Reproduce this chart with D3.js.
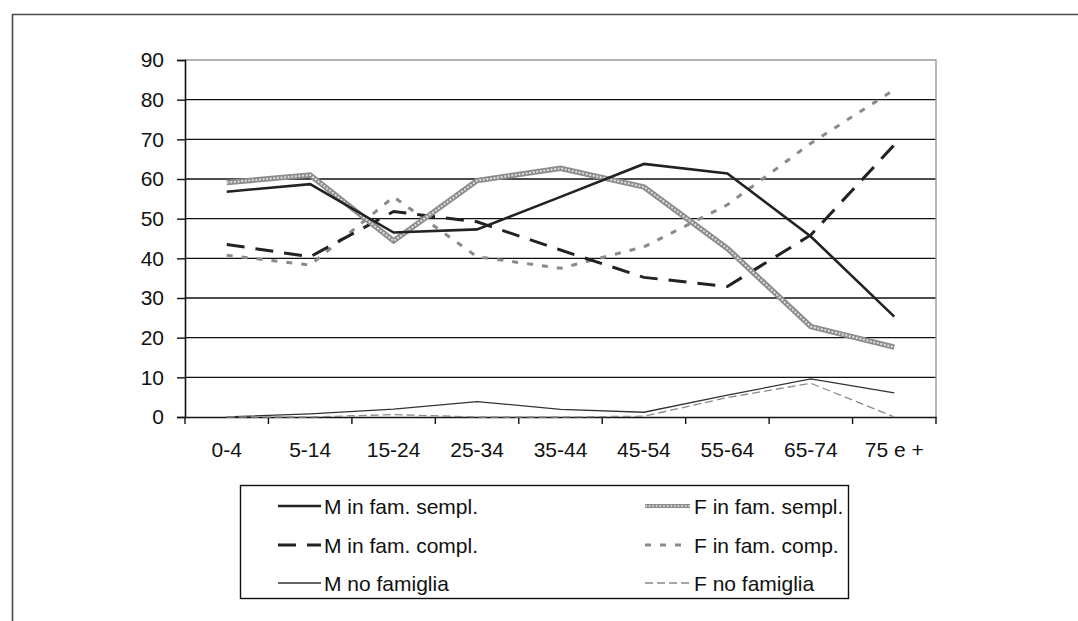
<!DOCTYPE html>
<html>
<head>
<meta charset="utf-8">
<script src="https://cdn.jsdelivr.net/npm/d3@7"></script>
<style>
  html, body { margin: 0; padding: 0; background: #fff; }
  svg { display: block; font-family: "Liberation Sans", Arial, sans-serif; }
</style>
</head>
<body>
<svg id="chart" width="1078" height="621"></svg>
<script>
// Age classes on the horizontal axis
const categories = ["0-4", "5-14", "15-24", "25-34", "35-44", "45-54", "55-64", "65-74", "75 e +"];
const yTicks = [0, 10, 20, 30, 40, 50, 60, 70, 80, 90];

// Percentages per age class
const mSempl  = [56.8, 58.7, 46.5, 47.3, 55.5, 63.8, 61.4, 45.5, 25.3];
const fSempl  = [59.1, 61.0, 44.4, 59.6, 62.7, 58.0, 42.5, 22.8, 17.6];
const mCompl  = [43.5, 40.4, 51.8, 49.2, 42.1, 35.2, 32.9, 45.9, 68.6];
const fComp   = [40.8, 38.3, 55.5, 40.4, 37.5, 42.9, 53.5, 69.0, 82.5];
const mNoFam  = [0, 0.8, 2.0, 3.9, 1.9, 1.2, 5.5, 9.6, 6.1];
const fNoFam  = [0, 0, 0.6, 0, 0, 0.2, 4.9, 8.5, 0];

const seriesNames = ["M in fam. sempl.", "F in fam. sempl.", "M in fam. compl.", "F in fam. comp.", "M no famiglia", "F no famiglia"];

const svg = d3.select("#chart");

// Chart-area frame (left and top edges)
svg.append("path")
  .attr("d", "M12.5,621 V14.5 H1078")
  .attr("fill", "none").attr("stroke", "#4a4a4a").attr("stroke-width", 1.6);

const plotL = 185, plotR = 936, plotT = 60, plotB = 417;

const x = d3.scaleBand().domain(categories).range([plotL, plotR]);
const y = d3.scaleLinear().domain([0, 90]).range([plotB, plotT]);
const cx = c => x(c) + x.bandwidth() / 2;

// Horizontal gridlines
svg.append("g").selectAll("line")
  .data(yTicks.filter(t => t > 0 && t < 90))
  .join("line")
  .attr("x1", plotL).attr("x2", plotR)
  .attr("y1", d => y(d)).attr("y2", d => y(d))
  .attr("stroke", "#111").attr("stroke-width", 1.4);

// Plot-area border (top and right)
svg.append("path")
  .attr("d", `M${plotL},${y(90)} H${plotR} V${plotB}`)
  .attr("fill", "none").attr("stroke", "#999").attr("stroke-width", 1.4);

// Y axis
const yAxis = svg.append("g")
  .attr("transform", `translate(${plotL},0)`)
  .call(d3.axisLeft(y).tickValues(yTicks).tickSize(8).tickPadding(13).tickFormat(d3.format("d")));
yAxis.select(".domain").attr("stroke", "#111").attr("stroke-width", 1.6);
yAxis.selectAll(".tick line").attr("stroke", "#111").attr("stroke-width", 1.4);
yAxis.selectAll("text").attr("font-size", 21).attr("fill", "#111").attr("font-family", "Liberation Sans, Arial, sans-serif");

// X axis: labels centred in each class, ticks on class boundaries
const xAxis = svg.append("g")
  .attr("transform", `translate(0,${plotB})`)
  .call(d3.axisBottom(x).tickSize(0).tickPadding(25));
xAxis.select(".domain").attr("stroke", "#111").attr("stroke-width", 1.6);
xAxis.selectAll("text").attr("font-size", 21).attr("fill", "#111").attr("font-family", "Liberation Sans, Arial, sans-serif");
svg.append("g").selectAll("line")
  .data(categories.map(c => x(c)).concat([plotR]))
  .join("line")
  .attr("x1", d => d).attr("x2", d => d)
  .attr("y1", plotB).attr("y2", plotB + 7)
  .attr("stroke", "#111").attr("stroke-width", 1.4);

const line = d3.line().x((d, i) => cx(categories[i])).y(d => y(d));

// Line styles for each series
const styles = [
  { data: mSempl, layers: [{ stroke: "#222", width: 2.6 }] },
  { data: fSempl, layers: [{ stroke: "#8c8c8c", width: 5.5 }, { stroke: "#dedede", width: 2, dash: "2,1.6" }] },
  { data: mCompl, layers: [{ stroke: "#222", width: 3, dash: "18,11" }] },
  { data: fComp,  layers: [{ stroke: "#8a8a8a", width: 3, dash: "6,9" }] },
  { data: mNoFam, layers: [{ stroke: "#333", width: 1.3 }] },
  { data: fNoFam, layers: [{ stroke: "#8a8a8a", width: 1.3, dash: "8,4" }] }
];

// Draw in stacking order (thin "no famiglia" lines under the others)
const order = [4, 5, 3, 2, 1, 0];
order.forEach(k => {
  styles[k].layers.forEach(l => {
    svg.append("path")
      .datum(styles[k].data)
      .attr("d", line)
      .attr("fill", "none")
      .attr("stroke", l.stroke)
      .attr("stroke-width", l.width)
      .attr("stroke-dasharray", l.dash || null)
      .attr("stroke-linejoin", "miter");
  });
});

// Legend
const lg = svg.append("g");
lg.append("rect")
  .attr("x", 240.5).attr("y", 485.5).attr("width", 608).attr("height", 113)
  .attr("fill", "#fff").attr("stroke", "#111").attr("stroke-width", 1.4);

const colX = [[278, 321, 324], [645, 690, 694]];
const rowY = [506, 545, 583];
seriesNames.forEach((name, i) => {
  const col = i % 2, row = Math.floor(i / 2);
  const [x1, x2, tx] = colX[col];
  const yy = rowY[row];
  styles[i].layers.forEach(l => {
    lg.append("line")
      .attr("x1", x1).attr("x2", x2).attr("y1", yy).attr("y2", yy)
      .attr("stroke", l.stroke)
      .attr("stroke-width", i === 1 ? l.width * 0.7 : l.width)
      .attr("stroke-dasharray", l.dash || null);
  });
  lg.append("text")
    .attr("x", tx).attr("y", yy).attr("dy", "0.36em")
    .attr("font-size", 21).attr("fill", "#111")
    .text(name);
});
</script>
</body>
</html>
